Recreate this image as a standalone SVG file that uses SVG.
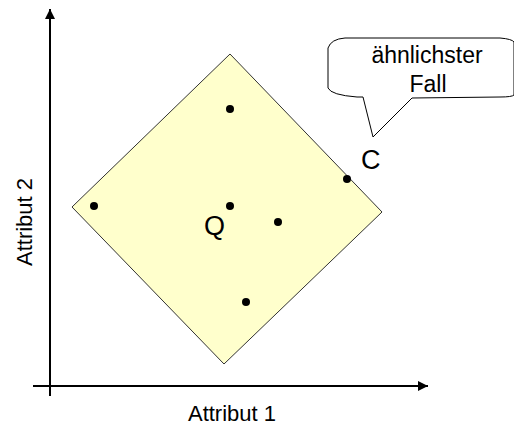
<svg xmlns="http://www.w3.org/2000/svg" width="514" height="426" viewBox="0 0 514 426">
<style>
text{font-family:"Liberation Sans",Arial,sans-serif;fill:#000}
.lbl{font-size:22px}
.cl{font-size:23px}
.big{font-size:27px}
.dot{fill:#000}
.axis{stroke:#000;stroke-width:2;fill:none}
</style>
<defs>
<marker id="ah" viewBox="0 0 10 10" refX="10" refY="5" markerWidth="10" markerHeight="10" markerUnits="userSpaceOnUse" orient="auto">
<path d="M0,0 L10,5 L0,10 z" fill="#000"/>
</marker>
</defs>
<rect width="514" height="426" fill="#fff"/>
<g id="connectors">
<line class="axis" x1="50" y1="396" x2="50" y2="9" marker-end="url(#ah)"/>
<line class="axis" x1="33" y1="386" x2="428" y2="386" marker-end="url(#ah)"/>
</g>
<g id="region">
<polygon points="230,54 382,212 224,364 72,207" fill="#ffffcc" stroke="#333" stroke-width="1"/>
</g>
<g id="points">
<circle class="dot" cx="230" cy="109" r="4"/>
<circle class="dot" cx="94" cy="206" r="4"/>
<circle class="dot" cx="230" cy="206" r="4"/>
<circle class="dot" cx="278" cy="222" r="4"/>
<circle class="dot" cx="246" cy="302" r="4"/>
<circle class="dot" cx="347" cy="179" r="4"/>
</g>
<g id="node-Q"><text class="big" x="204" y="235">Q</text></g>
<g id="node-C"><text class="big" x="361" y="169">C</text></g>
<g id="callout">
<path d="M345,38 L500,38 Q512,39 514,42 L514,95 Q512,97 500,97 L412,98 L373,137 L363,97 L357,97 Q331,95 328,88 L328,48 Q331,39 345,38 Z" fill="#fff" stroke="#000" stroke-width="1"/>
<text class="cl" x="427" y="63" text-anchor="middle">ähnlichster</text>
<text class="cl" x="428" y="92" text-anchor="middle">Fall</text>
</g>
<g id="axis-labels">
<text class="lbl" x="232" y="421" text-anchor="middle">Attribut 1</text>
<text class="lbl" transform="translate(32,222) rotate(-90)" text-anchor="middle">Attribut 2</text>
</g>
</svg>
